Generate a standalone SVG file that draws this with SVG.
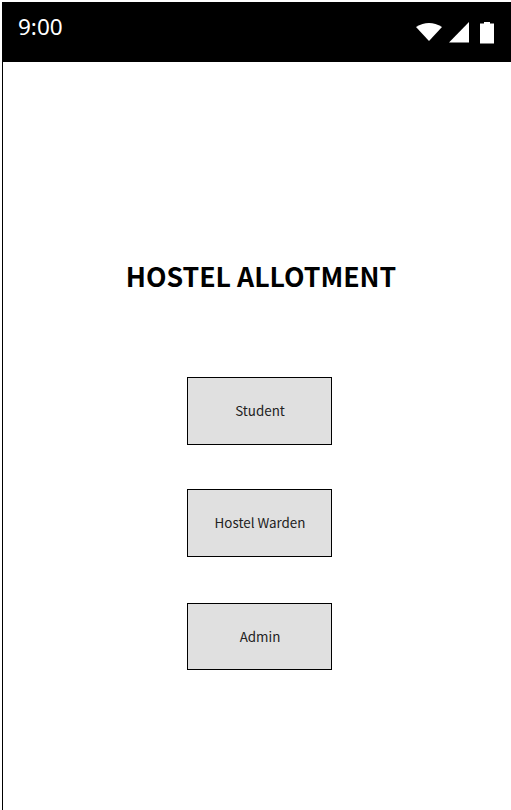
<svg xmlns="http://www.w3.org/2000/svg" width="511" height="810" viewBox="0 0 511 810">
<style>
.btn{fill:#e0e0e0;stroke:#000;stroke-width:1}
.lbl{font-family:"Noto Sans CJK SC","Noto Sans",sans-serif;font-size:13.4px;fill:#222;text-anchor:middle}
.ico{fill:#fff}
</style>
<rect width="511" height="810" fill="#fff"/>
<g id="frame">
<rect x="2" y="2" width="509" height="60" fill="#000"/>
<line x1="2.500" y1="62" x2="2.500" y2="810" stroke="#000" stroke-width="1"/>
</g>
<g id="status-bar">
<text x="18" y="35" font-family="Noto Sans,sans-serif" font-size="22.5" fill="#fff">9:00</text>
<path class="ico" d="M416 27Q429 19 442 27L429 41Z"/>
<path class="ico" d="M469 22V42.500H449Z"/>
<path class="ico" d="M480 23.500H484V22H490V23.500H494V43.500H480Z"/>
</g>
<g id="title">
<text x="261" y="287" font-family="Noto Sans CJK SC,Noto Sans,sans-serif" font-size="26.700" font-weight="700" text-anchor="middle" fill="#000">HOSTEL ALLOTMENT</text>
</g>
<g id="student">
<rect class="btn" x="187.500" y="377.500" width="144" height="67"/>
<text class="lbl" x="260" y="416">Student</text>
</g>
<g id="hostel-warden">
<rect class="btn" x="187.500" y="489.500" width="144" height="67"/>
<text class="lbl" x="260" y="528">Hostel Warden</text>
</g>
<g id="admin">
<rect class="btn" x="187.500" y="603.500" width="144" height="66"/>
<text class="lbl" x="260" y="642">Admin</text>
</g>
</svg>
